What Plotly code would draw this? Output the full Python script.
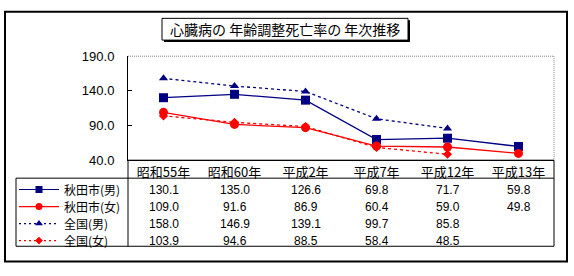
import plotly.graph_objects as go

W, H = 574, 276

categories = ["昭和55年", "昭和60年", "平成2年", "平成7年", "平成12年", "平成13年"]
akita_m = [130.1, 135.0, 126.6, 69.8, 71.7, 59.8]
akita_f = [109.0, 91.6, 86.9, 60.4, 59.0, 49.8]
zenkoku_m = [158.0, 146.9, 139.1, 99.7, 85.8, None]
zenkoku_f = [103.9, 94.6, 88.5, 58.4, 48.5, None]
series_names = ["秋田市(男)", "秋田市(女)", "全国(男)", "全国(女)"]
y_ticks = [40, 90, 140, 190]
title = "心臓病の 年齢調整死亡率の 年次推移"

NAVY = "#000080"
RED = "#FF0000"
JP = "Noto Sans CJK JP"
NUM = "Liberation Sans"

def px(x):
    return x / W

def py(y):
    return 1 - y / H

# plot area in pixels
PL, PR, PT, PB = 128, 554, 52, 162

styles = [
    dict(color=NAVY, dash="solid", symbol="square", size=9, lsize=7),
    dict(color=RED, dash="solid", symbol="circle", size=9, lsize=7),
    dict(color=NAVY, dash="3px,3px", symbol="triangle-up", size=8, lsize=7),
    dict(color=RED, dash="3px,3px", symbol="diamond", size=7, lsize=6),
]
data = [akita_m, akita_f, zenkoku_m, zenkoku_f]

fig = go.Figure()
for name, vals, st in zip(series_names, data, styles):
    fig.add_trace(go.Scatter(
        x=categories, y=vals, name=name, mode="lines+markers",
        line=dict(color=st["color"], width=1.3, dash=st["dash"]),
        marker=dict(symbol=st["symbol"], size=st["size"], color=st["color"]),
        cliponaxis=False, showlegend=False, xaxis="x", yaxis="y",
    ))

# table rows (pixel y centers)
row_y = [193, 211, 229, 247]

# legend key samples on a full-figure pixel axis
for name, st, ry in zip(series_names, styles, row_y):
    d = "solid" if st["dash"] == "solid" else "2px,3px"
    fig.add_trace(go.Scatter(
        x=[19, 59], y=[ry, ry], mode="lines",
        line=dict(color=st["color"], width=1.2, dash=d),
        showlegend=False, xaxis="x2", yaxis="y2", hoverinfo="skip",
        cliponaxis=False,
    ))
    fig.add_trace(go.Scatter(
        x=[39], y=[ry], mode="markers",
        marker=dict(symbol=st["symbol"], size=st["lsize"], color=st["color"]),
        showlegend=False, xaxis="x2", yaxis="y2", hoverinfo="skip",
        cliponaxis=False,
    ))

annotations = []
for name, vals, ry in zip(series_names, data, row_y):
    annotations.append(dict(
        x=px(62), y=py(ry), xref="paper", yref="paper", text=name,
        showarrow=False, xanchor="left", yanchor="middle",
        font=dict(family=JP, size=12, color="black"),
    ))
    for c, v in zip(categories, vals):
        if v is None:
            continue
        annotations.append(dict(
            x=c, y=py(ry), xref="x", yref="paper", text=f"{v:.1f}",
            showarrow=False, xanchor="center", yanchor="middle",
            font=dict(family=NUM, size=12, color="black"),
        ))

# title
annotations.append(dict(
    x=px(285), y=py(23.5), xref="paper", yref="paper", text=title,
    showarrow=False, xanchor="center", yanchor="middle",
    font=dict(family=JP, size=14, color="black"),
))

shapes = []
def rect(x0, y0, x1, y1, color="black", width=1, fill=None, dash="solid"):
    shapes.append(dict(type="rect", xref="paper", yref="paper",
                       x0=px(x0), x1=px(x1), y0=py(y0), y1=py(y1),
                       line=dict(color=color, width=width, dash=dash),
                       fillcolor=fill if fill else "rgba(0,0,0,0)", layer="above"))

def line(x0, y0, x1, y1, color="black", width=1, dash="solid"):
    shapes.append(dict(type="line", xref="paper", yref="paper",
                       x0=px(x0), x1=px(x1), y0=py(y0), y1=py(y1),
                       line=dict(color=color, width=width, dash=dash), layer="above"))

# outer frame
rect(5, 5, 567, 269, width=2)
# title box with shadow
rect(164, 14, 410, 37, color="black", width=0, fill="black")
rect(162, 12, 408, 35, color="black", width=1, fill="white")
# plot area dotted borders
line(PL, PT, PR, PT, color="#808080", width=1, dash="1px,1px")
line(PR, PT, PR, PB, color="#808080", width=1, dash="1px,1px")
# table lines
rect(16, 181, PR, 253, width=1)
line(PL, PB, PL, 253)
line(PR, PB, PR, 181)
line(PL, PB, PR, PB)

fig.update_layout(
    width=W, height=H,
    margin=dict(l=0, r=0, t=0, b=0),
    paper_bgcolor="white", plot_bgcolor="rgba(0,0,0,0)",
    xaxis=dict(
        domain=[px(PL), px(PR)], type="category", range=[-0.5, 5.5],
        showline=True, linecolor="black", linewidth=1, ticks="",
        showgrid=False, zeroline=False, fixedrange=True,
        tickfont=dict(family=JP, size=13, color="black"),
    ),
    yaxis=dict(
        domain=[py(PB), py(PT)], range=[40, 190], tickvals=y_ticks,
        tickformat=".1f", ticks="inside", ticklen=4, tickcolor="black",
        showline=True, linecolor="black", linewidth=1,
        showgrid=False, zeroline=False, fixedrange=True, ticklabelstandoff=10,
        tickfont=dict(family=NUM, size=13, color="black"),
    ),
    xaxis2=dict(domain=[0, 1], range=[0, W], visible=False, anchor="y2",
                fixedrange=True),
    yaxis2=dict(domain=[0, 1], range=[H, 0], visible=False, anchor="x2",
                fixedrange=True),
    annotations=annotations,
    shapes=shapes,
)

fig.write_html("out.html")
